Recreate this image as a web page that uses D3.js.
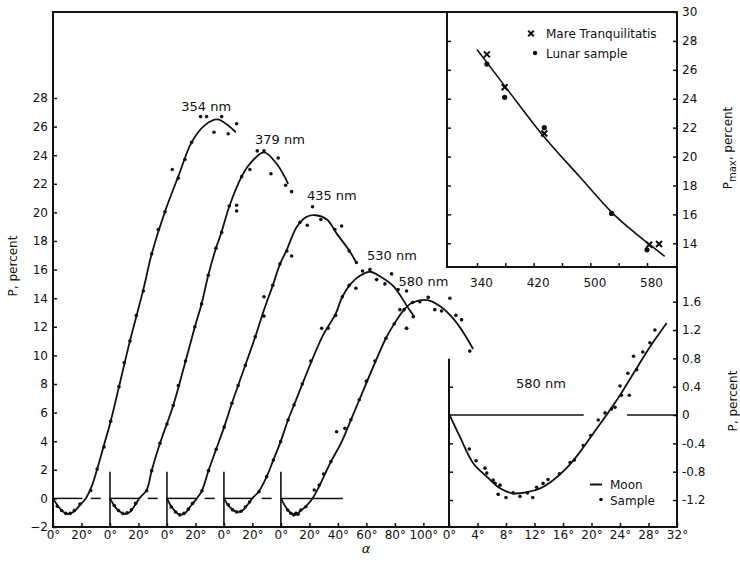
<!DOCTYPE html>
<html>
<head>
<meta charset="utf-8">
<script src="https://cdn.jsdelivr.net/npm/d3@7"></script>
<style>
body { margin: 0; background: #fff; }
svg { font-family: "DejaVu Sans", sans-serif; }
</style>
</head>
<body>
<svg id="chart" width="740" height="562"></svg>
<script>
// ---- data ----
const waveLabels = ["354 nm", "379 nm", "435 nm", "530 nm", "580 nm"];
const panelStart = [0, 40, 80, 120, 160];   // each curve's own 0° on the shared alpha axis

// Moon curves: [alpha (deg from the panel's 0°), P percent]
const moon354 = [[0,0],[4,-0.6],[8,-1.0],[11,-1.1],[15,-0.9],[19,-0.45],[23,0],[27,0.8],[31,2.05],[36,3.8],[40.5,5.4],[46.3,7.8],[54,11.0],[63.4,14.6],[69.3,17.1],[78.6,20.05],[87.9,22.5],[97.3,24.9],[106.7,26.1],[115.3,26.5],[122.8,26.1],[128.4,25.6]];
const moon379 = [[0,0],[4,-0.65],[8,-1.0],[10.5,-1.1],[14,-0.95],[18,-0.4],[20.6,0],[25.8,0.6],[29.3,1.95],[35.1,3.85],[44.4,6.5],[52,9.2],[59.6,12.0],[64.3,13.6],[69,15.6],[74.4,17.5],[78.4,18.65],[83.7,20.4],[92.4,22.5],[98.2,23.4],[108.1,24.2],[117,23.4],[125.1,22.0]];
const moon435 = [[0,0],[4,-0.7],[9.3,-1.15],[13,-1.0],[17,-0.5],[21,0],[24.6,0.55],[29.2,1.95],[34.6,3.45],[40.2,5.0],[45.6,6.65],[62,11.3],[68.2,13.2],[74.3,14.9],[79.4,16.4],[84.2,17.4],[91.2,19.0],[98.2,19.7],[104.5,19.8],[112.3,19.5],[119.3,18.5],[127.5,17.4],[132.9,16.5]];
const moon530 = [[0,0],[4,-0.6],[9.4,-0.95],[13,-0.85],[16.5,-0.45],[19.9,0],[24.6,0.5],[30,1.52],[34.7,2.69],[39.8,3.97],[45,5.48],[49.2,6.53],[69,11.3],[78.4,12.9],[83.1,14.1],[89,15.0],[96,15.6],[102.5,15.85],[110,15.5],[119.4,14.8],[128.8,13.4],[133.9,12.66]];
const moon580 = [[0,0],[4.7,-0.8],[8,-1.1],[10.5,-1.15],[14,-0.85],[17.5,-0.55],[22.2,0],[26.9,0.85],[35.1,2.57],[42.1,3.85],[49.1,5.48],[55,6.88],[73.7,11.2],[79.5,12.2],[86.5,13.2],[92.4,13.7],[102.9,13.87],[112.3,13.4],[121.6,12.5],[128.7,11.5],[134.9,10.45]];

// lunar sample points
const sample354 = [[3,-0.55],[6,-0.85],[9,-1.05],[12,-1.05],[15,-0.85],[19,-0.4],[26.5,0.55],[31,2.05],[35.8,3.6],[40.5,5.4],[46.3,7.8],[50,9.5],[54,11],[58.5,12.8],[63.4,14.5],[69.3,17.1],[73.9,18.8],[78.6,20.05],[83.7,23.0],[87.9,22.4],[92.6,23.7],[97.3,24.9],[103.6,26.7],[107.8,26.7],[113,25.6],[118.4,26.7],[123,25.5],[128.9,26.2]];
const sample379 = [[3,-0.5],[6,-0.85],[9,-1.05],[12,-1.0],[15,-0.8],[18,-0.35],[25.8,0.54],[29.3,1.94],[35.1,3.85],[40,5.2],[44.4,6.5],[48,7.9],[53,9.6],[59.6,12.0],[64.3,13.6],[69,15.6],[74.4,17.5],[78.4,18.6],[83.7,20.45],[88.9,20.5],[88.9,20.1],[92.4,22.5],[98.2,23.0],[103.4,24.3],[108.1,24.3],[113,22.7],[118.1,23.8],[123.3,21.9],[127.5,21.45]];
const sample435 = [[3,-0.6],[6,-0.95],[9,-1.15],[12,-1.05],[15,-0.75],[18,-0.35],[24.6,0.54],[29.2,1.94],[34.6,3.43],[40.2,5.0],[45.6,6.65],[50,7.9],[55,9.3],[62,11.3],[68.1,12.75],[68.1,14.1],[74.3,14.9],[79.3,16.4],[84.2,17.3],[87.5,16.95],[93.3,19.3],[98.5,19.1],[102.2,20.4],[108,19.5],[117.9,18.8],[122.6,19.05],[127.9,17.3],[133,16.5]];
const sample530 = [[3,-0.45],[6,-0.8],[9,-0.95],[12,-0.9],[15,-0.6],[18,-0.25],[24.6,0.47],[30,1.52],[34.7,2.69],[39.8,3.97],[45,5.48],[49.2,6.53],[55,8.0],[61,9.6],[68.6,11.9],[73.2,11.9],[78.4,12.8],[83.1,14.1],[87.9,14.9],[92.6,14.7],[97.3,15.9],[102.5,16.0],[107.2,15.3],[113,15.0],[117.7,15.7],[122.3,14.6],[123.5,13.2],[128.2,14.5],[128.2,11.9],[132.9,12.7]];
const sample580 = [[4.7,-0.81],[7,-1.04],[9,-1.15],[10.5,-1.04],[12,-1.1],[14,-0.81],[17.5,-0.58],[23.4,0.59],[26.9,0.94],[30,1.7],[35.1,2.57],[39.1,4.66],[44.9,4.9],[49.1,5.5],[55,6.9],[60,8.2],[66,9.6],[73.7,11.2],[79.5,12.2],[86.5,13.2],[88.2,11.9],[92.4,13.7],[97.5,13.75],[103.4,14.06],[108,13.2],[112.8,13.1],[118.6,14.0],[122.8,12.8],[126.8,12.5],[132.6,10.3]];

const moonCurves = [moon354, moon379, moon435, moon530, moon580];
const sampleSets = [sample354, sample379, sample435, sample530, sample580];

// tick labels
const pTicks = [-2,0,2,4,6,8,10,12,14,16,18,20,22,24,26,28];
const alphaTicks = [0,20,40,60,80,100,120,140,160,180,200,220,240,260];
const alphaTickText = ["0°","20°","0°","20°","0°","20°","0°","20°","0°","20°","40°","60°","80°","100°"];

// inset: P max vs wavelength
const pmaxCurve = [[340,27.4],[382,24.7],[429,21.7],[485,18.6],[532,16.05],[584,13.9],[605,13.1]];
const mareTranq = [[354,27.07],[379,24.8],[435,21.6],[583,13.9],[597,13.95]];
const lunarSample = [[354,26.4],[379,24.1],[435,22.0],[530,16.07],[580,13.55]];
const nmTicks = [340,380,420,460,500,540,580];
const nmTickText = ["340","","420","","500","","580"];
const pmaxTicks = [14,16,18,20,22,24,26,28,30];

// inset: 580 nm near zero phase
const moonNear = [[0,0.02],[1.54,-0.31],[3.4,-0.68],[5.3,-0.87],[7.16,-1.035],[9,-1.106],[10.9,-1.09],[12.8,-1.035],[14.6,-0.92],[16.5,-0.75],[18.4,-0.52],[20.25,-0.26],[22.1,0],[24,0.28],[25.9,0.59],[27.75,0.89],[29.15,1.1],[30.55,1.3]];
const sampleNear = [[2.85,-0.48],[3.8,-0.645],[5.05,-0.75],[5.3,-0.82],[6.2,-0.92],[6.46,-0.965],[7.16,-0.99],[6.9,-1.12],[8,-1.165],[9,-1.1],[9.96,-1.15],[11,-1.1],[11.75,-1.165],[12.3,-1.02],[13.2,-0.965],[13.9,-0.91],[15.5,-0.83],[17,-0.67],[17.6,-0.635],[18.85,-0.43],[19.9,-0.29],[20.95,-0.07],[21.9,0.03],[22.8,0.085],[23.3,0.11],[24,0.41],[24.2,0.28],[25.1,0.59],[25.3,0.28],[25.9,0.83],[26.35,0.64],[27.2,0.89],[28.2,1.02],[28.9,1.2]];
const nearTicks = [0,4,8,12,16,20,24,28,32];
const nearTickText = ["0°","4°","8°","12°","16°","20°","24°","28°","32°"];
const nearPTicks = [-1.2,-0.8,-0.4,0,0.4,0.8,1.2,1.6];
const nearPText = ["-1.2","-0.8","-0.4","0","0.4","0.8","1.2","1.6"];

// ---- layout ----
const svg = d3.select("#chart");
const ink = "#111";

const xMain = d3.scaleLinear().domain([0, 278]).range([53, 449]);
const yMain = d3.scaleLinear().domain([-2, 28]).range([527, 98]);
const xNm = d3.scaleLinear().domain([340, 580]).range([477, 647]);
const yMax = d3.scaleLinear().domain([14, 30]).range([243.3, 12]);
const xA = d3.scaleLinear().domain([0, 32]).range([449, 677]);
const yA = d3.scaleLinear().domain([-1.2, 1.6]).range([500, 301.7]);

// label nudges (px) from each curve's maximum
const labelNudge = [[-11,-8],[16,-8],[16,-15],[22,-12],[-4,-14]];
// where the dashed zero reference is drawn in each panel (deg)
const zeroSegs = [[[0,20],[27,33]],[[0,20],[27,33]],[[0,20],[27,33]],[[0,20],[27,33]],[[0,43]]];

function seg(x1, y1, x2, y2, w) {
  svg.append("line")
    .attr("x1", x1).attr("y1", y1).attr("x2", x2).attr("y2", y2)
    .attr("stroke", ink).attr("stroke-width", w || 2)
    .attr("stroke-linecap", "square");
}

function styleAxis(g) {
  g.attr("font-family", null).attr("font-size", 12);
  g.select(".domain").remove();
  g.selectAll(".tick line").attr("stroke", ink).attr("stroke-width", 1.5);
  g.selectAll(".tick text").attr("fill", ink);
}

// outer frame
seg(53, 12, 53, 527);
seg(53, 12, 677, 12);
seg(677, 12, 677, 527);
seg(53, 527, 677, 527);

// inset box (P max)
seg(447, 12, 447, 267);
seg(447, 267, 677, 267);

// lower-right inset left edge
seg(xA(0), yA(0.78), xA(0), 527);

// ---- main axes ----
svg.append("g").attr("transform", "translate(53,0)")
  .call(d3.axisLeft(yMain).tickValues(pTicks).tickSizeInner(-4).tickSizeOuter(0).tickPadding(5))
  .call(styleAxis);

svg.append("g").attr("transform", "translate(0,527)")
  .call(d3.axisBottom(xMain).tickValues(alphaTicks).tickFormat((d, i) => alphaTickText[i])
    .tickSizeInner(-4).tickSizeOuter(0).tickPadding(3))
  .call(styleAxis);

// panel dividers and zero references
panelStart.forEach((p, i) => {
  if (i > 0) seg(xMain(p), yMain(-2), xMain(p), yMain(1.8), 1.6);
  zeroSegs[i].forEach(s => seg(xMain(p + s[0]), yMain(0), xMain(p + s[1]), yMain(0), 1.5));
});

// curves + samples
moonCurves.forEach((c, i) => {
  const off = panelStart[i];
  const line = d3.line()
    .x(d => xMain(off + d[0]))
    .y(d => yMain(d[1]))
    .curve(d3.curveCatmullRom.alpha(0.5));
  svg.append("path").datum(c)
    .attr("d", line)
    .attr("fill", "none").attr("stroke", ink).attr("stroke-width", 1.8);

  svg.append("g").selectAll("circle")
    .data(sampleSets[i]).enter().append("circle")
    .attr("cx", d => xMain(off + d[0]))
    .attr("cy", d => yMain(d[1]))
    .attr("r", 1.8).attr("fill", ink);

  const top = c.reduce((a, b) => (b[1] > a[1] ? b : a));
  svg.append("text")
    .attr("x", xMain(off + top[0]) + labelNudge[i][0])
    .attr("y", yMain(top[1]) + labelNudge[i][1])
    .attr("text-anchor", "middle").attr("font-size", 13).attr("fill", ink)
    .text(waveLabels[i]);
});

// axis titles
svg.append("text")
  .attr("transform", "translate(13,266) rotate(-90)")
  .attr("dy", "0.35em").attr("text-anchor", "middle")
  .attr("font-size", 12).attr("fill", ink)
  .text("P, percent");

svg.append("text")
  .attr("x", 366).attr("y", 553)
  .attr("text-anchor", "middle").attr("font-size", 13)
  .attr("font-style", "italic").attr("fill", ink)
  .text("α");

// ---- inset: P max ----
svg.append("g").attr("transform", "translate(677,0)")
  .call(d3.axisRight(yMax).tickValues(pmaxTicks).tickSizeInner(-4).tickSizeOuter(0).tickPadding(5))
  .call(styleAxis);
svg.append("g").attr("transform", "translate(447,0)")
  .call(d3.axisRight(yMax).tickValues(pmaxTicks.slice(0, -1)).tickSizeInner(4).tickSizeOuter(0).tickFormat(""))
  .call(styleAxis);
svg.append("g").attr("transform", "translate(0,267)")
  .call(d3.axisBottom(xNm).tickValues(nmTicks).tickFormat((d, i) => nmTickText[i])
    .tickSizeInner(-4).tickSizeOuter(0).tickPadding(11))
  .call(styleAxis)
  .selectAll(".tick text").attr("dx", 4);

svg.append("path").datum(pmaxCurve)
  .attr("d", d3.line().x(d => xNm(d[0])).y(d => yMax(d[1])).curve(d3.curveMonotoneX))
  .attr("fill", "none").attr("stroke", ink).attr("stroke-width", 1.6);

const xMark = (x, y, s) => `M${x - s},${y - s}L${x + s},${y + s}M${x - s},${y + s}L${x + s},${y - s}`;

svg.append("g").selectAll("path")
  .data(mareTranq).enter().append("path")
  .attr("d", d => xMark(xNm(d[0]), yMax(d[1]), 3))
  .attr("stroke", ink).attr("stroke-width", 2).attr("fill", "none");
svg.append("g").selectAll("circle")
  .data(lunarSample).enter().append("circle")
  .attr("cx", d => xNm(d[0])).attr("cy", d => yMax(d[1]))
  .attr("r", 2.6).attr("fill", ink);

// legend
svg.append("path").attr("d", xMark(531, 33.5, 2.8))
  .attr("stroke", ink).attr("stroke-width", 2).attr("fill", "none");
svg.append("text").attr("x", 546).attr("y", 38).attr("font-size", 12).attr("fill", ink)
  .text("Mare Tranquilitatis");
svg.append("circle").attr("cx", 535).attr("cy", 53).attr("r", 2.2).attr("fill", ink);
svg.append("text").attr("x", 546).attr("y", 58).attr("font-size", 12).attr("fill", ink)
  .text("Lunar sample");

const pmaxTitle = svg.append("text")
  .attr("transform", "translate(728,148) rotate(-90)")
  .attr("dy", "0.35em").attr("text-anchor", "middle")
  .attr("font-size", 12).attr("fill", ink);
pmaxTitle.append("tspan").text("P");
pmaxTitle.append("tspan").attr("dy", 4).attr("font-size", 10).text("max");
pmaxTitle.append("tspan").attr("dy", -4).text(", percent");

// ---- inset: 580 nm near zero ----
svg.append("g").attr("transform", "translate(677,0)")
  .call(d3.axisRight(yA).tickValues(nearPTicks).tickFormat((d, i) => nearPText[i])
    .tickSizeInner(-4).tickSizeOuter(0).tickPadding(5))
  .call(styleAxis);
svg.append("g").attr("transform", "translate(449,0)")
  .call(d3.axisRight(yA).tickValues([-1.2, -0.8, -0.4, 0.4]).tickSizeInner(4).tickSizeOuter(0).tickFormat(""))
  .call(styleAxis);
svg.append("g").attr("transform", "translate(0,527)")
  .call(d3.axisBottom(xA).tickValues(nearTicks).tickFormat((d, i) => nearTickText[i])
    .tickSizeInner(-4).tickSizeOuter(0).tickPadding(3))
  .call(styleAxis);

seg(xA(0), yA(0), xA(18.8), yA(0), 1.5);
seg(xA(25.1), yA(0), xA(32), yA(0), 1.5);

svg.append("path").datum(moonNear)
  .attr("d", d3.line().x(d => xA(d[0])).y(d => yA(d[1])).curve(d3.curveCatmullRom.alpha(0.5)))
  .attr("fill", "none").attr("stroke", ink).attr("stroke-width", 1.8);
svg.append("g").selectAll("circle")
  .data(sampleNear).enter().append("circle")
  .attr("cx", d => xA(d[0])).attr("cy", d => yA(d[1]))
  .attr("r", 1.8).attr("fill", ink);

svg.append("text").attr("x", 541).attr("y", 388)
  .attr("text-anchor", "middle").attr("font-size", 13).attr("fill", ink)
  .text("580 nm");

seg(591, 484.5, 601, 484.5, 2);
svg.append("text").attr("x", 610).attr("y", 489).attr("font-size", 12).attr("fill", ink).text("Moon");
svg.append("circle").attr("cx", 601).attr("cy", 499.5).attr("r", 1.8).attr("fill", ink);
svg.append("text").attr("x", 610).attr("y", 505).attr("font-size", 12).attr("fill", ink).text("Sample");

svg.append("text")
  .attr("transform", "translate(733,401) rotate(-90)")
  .attr("dy", "0.35em").attr("text-anchor", "middle")
  .attr("font-size", 12).attr("fill", ink)
  .text("P, percent");
</script>
</body>
</html>
